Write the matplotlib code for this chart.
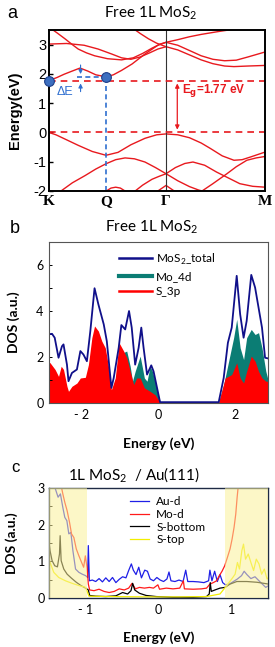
import numpy as np
import matplotlib.pyplot as plt

plt.rcParams['font.family'] = ['Lato', 'DejaVu Sans']
plt.rcParams['mathtext.fontset'] = 'custom'
plt.rcParams['mathtext.rm'] = 'Lato'

# ---------------- panel a : band structure ----------------
k_ticks = [0, 0.487, 1.0, 1.846]
k_labels = ['K', 'Q', 'Γ', 'M']

k_cb1 = [0, 0.07, 0.13, 0.2, 0.265, 0.33, 0.4, 0.487, 0.55, 0.62, 0.71, 0.82, 0.93, 1.0, 1.1, 1.2, 1.3, 1.4, 1.5, 1.6, 1.7, 1.846]
E_cb1 = [1.77, 1.88, 1.99, 2.1, 2.2, 2.1, 1.97, 1.9, 1.97, 2.12, 2.34, 2.68, 2.98, 3.08, 2.98, 2.8, 2.62, 2.5, 2.45, 2.47, 2.58, 2.75]
k_cb2 = [0, 0.15, 0.3, 0.42, 0.536, 0.62, 0.7, 0.78, 0.86, 0.93, 1.0, 1.1, 1.2, 1.3, 1.4, 1.5, 1.58, 1.7, 1.846]
E_cb2 = [3.02, 3.04, 2.98, 2.85, 2.68, 2.55, 2.5, 2.58, 2.72, 2.85, 2.93, 2.82, 2.65, 2.48, 2.35, 2.27, 2.25, 2.27, 2.29]
k_cb3 = [0, 0.07, 0.137, 0.2, 0.25, 0.32, 0.39, 0.5, 0.62, 0.72, 0.8, 0.88, 0.95, 1.0, 1.1, 1.2, 1.3, 1.45, 1.62, 1.7]
E_cb3 = [3.6, 3.4, 3.2, 3.0, 2.85, 2.72, 2.62, 2.52, 2.48, 2.55, 2.7, 2.88, 3.02, 3.08, 3.17, 3.27, 3.35, 3.45, 3.55, 3.6]
k_cb4 = [0.72, 0.78, 0.85, 0.92, 1.0]
E_cb4 = [3.55, 3.38, 3.2, 3.05, 2.93]

k_vb1 = [0, 0.06, 0.15, 0.25, 0.37, 0.487, 0.59, 0.7, 0.82, 0.92, 1.0, 1.1, 1.2, 1.3, 1.38, 1.48, 1.58, 1.65, 1.72, 1.846]
E_vb1 = [0, -0.08, -0.25, -0.44, -0.65, -0.78, -0.68, -0.42, -0.2, -0.08, -0.05, -0.08, -0.18, -0.36, -0.55, -0.8, -0.95, -0.93, -0.84, -0.67]
k_vb2 = [0.11, 0.2, 0.31, 0.4, 0.487, 0.57, 0.65, 0.73, 0.82, 0.91, 1.0, 1.1, 1.2, 1.28, 1.33]
E_vb2 = [-1.98, -1.72, -1.47, -1.25, -1.07, -0.93, -0.87, -0.9, -1.01, -1.2, -1.41, -1.65, -1.85, -1.97, -2.02]
k_vb3 = [0.73, 0.8, 0.88, 0.94, 1.0, 1.08, 1.16, 1.23, 1.33, 1.43, 1.53, 1.63, 1.74, 1.846]
E_vb3 = [-2.02, -1.8, -1.6, -1.5, -1.41, -1.2, -1.06, -1.01, -1.12, -1.35, -1.55, -1.75, -1.84, -1.87]
k_vb4 = [1.3, 1.4, 1.52, 1.6, 1.69, 1.77, 1.846]
E_vb4 = [-2.02, -1.75, -1.41, -1.17, -0.95, -0.87, -0.82]
k_vb5 = [0.49, 0.53, 0.57, 0.61, 0.65]
E_vb5 = [-2.0, -1.9, -1.87, -1.9, -2.0]
k_vb6 = [0.93, 1.0, 1.07]
E_vb6 = [-2.0, -1.81, -2.0]

Eg = 1.77
E_Q = 1.9

# ---------------- panel b : DOS free MoS2 ----------------
E_tot = [-2.91, -2.78, -2.71, -2.61, -2.52, -2.48, -2.39, -2.35, -2.26, -2.13, -2.04, -1.96, -1.87, -1.78, -1.67, -1.57,
         -1.43, -1.35, -1.23, -1.17, -1.04, -0.97, -0.87, -0.77, -0.70, -0.61, -0.52, -0.45, -0.39, -0.30, -0.19, -0.13,
         0.04, 1.57, 1.70, 1.81, 1.91, 2.04, 2.13, 2.22, 2.30, 2.42, 2.52, 2.61, 2.70, 2.78, 2.86]
D_tot = [2.98, 3.01, 2.84, 1.97, 2.47, 2.55, 1.67, 0.95, 1.31, 1.46, 2.26, 2.11, 1.82, 3.13, 4.99, 4.29,
         3.42, 2.69, 0.66, 1.09, 2.40, 3.39, 3.20, 4.00, 3.28, 1.67, 2.40, 3.28, 2.40, 1.24, 1.64, 1.38,
         0.04, 0.04, 1.09, 2.62, 3.28, 5.53, 3.86, 2.84, 3.57, 5.57, 5.02, 4.15, 3.28, 1.97, 1.94]
E_s3p = [-2.91, -2.83, -2.70, -2.61, -2.54, -2.48, -2.39, -2.35, -2.26, -2.13, -2.04, -1.91, -1.83, -1.74, -1.67, -1.57,
         -1.48, -1.39, -1.30, -1.23, -1.13, -1.03, -0.91, -0.83, -0.74, -0.65, -0.57, -0.48, -0.37, -0.22, -0.09, 0.04,
         1.57, 1.74, 1.91, 2.04, 2.13, 2.22, 2.30, 2.42, 2.52, 2.61, 2.70, 2.80, 2.86]
D_s3p = [1.82, 1.75, 1.46, 1.16, 1.60, 1.46, 0.73, 0.51, 0.73, 0.87, 1.09, 1.12, 1.67, 2.84, 3.35, 3.13,
         2.69, 2.40, 1.53, 0.58, 1.09, 2.62, 2.26, 1.97, 1.38, 0.80, 1.09, 1.09, 0.66, 0.51, 0.36, 0.03,
         0.03, 1.09, 1.24, 1.75, 1.09, 0.87, 1.38, 2.04, 1.82, 1.38, 1.09, 0.95, 0.95]
E_mo4d = [-2.91, -2.6, -2.3, -2.0, -1.75, -1.5, -1.25, -1.1, -0.91, -0.83, -0.74, -0.68, -0.61, -0.48, -0.42, -0.37,
          -0.30, -0.22, -0.16, -0.09, 0.04, 1.57, 1.70, 1.83, 1.96, 2.04, 2.13, 2.22, 2.30, 2.42, 2.52, 2.61, 2.70, 2.80, 2.86]
D_mo4d = [0.9, 0.6, 0.4, 0.7, 1.6, 1.5, 0.4, 0.8, 2.2, 2.26, 1.60, 0.95, 1.38, 2.04, 1.53, 1.09,
          0.95, 1.60, 1.38, 0.95, 0.03, 0.03, 0.80, 1.82, 2.84, 3.64, 2.40, 1.89, 2.84, 3.20, 2.98, 3.06, 2.40, 1.38, 1.0]

# ---------------- panel c : DOS MoS2 / Au(111) ----------------
E_au = [-1.411, -1.375, -1.343, -1.31, -1.283, -1.255, -1.228, -1.2, -1.172, -1.136, -1.09, -1.044, -0.998, -0.97, -0.961,
        -0.947, -0.906, -0.86, -0.814, -0.768, -0.722, -0.676, -0.63, -0.584, -0.538, -0.492, -0.446, -0.409, -0.372,
        -0.345, -0.308, -0.271, -0.234, -0.189, -0.152, -0.115, -0.069, -0.023, 0.023, 0.069, 0.115, 0.143, 0.17, 0.225,
        0.28, 0.336, 0.372, 0.4, 0.474, 0.547, 0.621, 0.685, 0.703, 0.731, 0.768, 0.805, 0.841, 0.878, 0.915, 0.97,
        1.025, 1.08, 1.136, 1.172, 1.209, 1.264, 1.32, 1.375, 1.421, 1.467, 1.508]
D_au = [2.97, 2.75, 2.84, 2.47, 2.2, 2.11, 1.75, 1.79, 1.29, 0.79, 0.7, 0.65, 0.61, 0.56, 1.43,
        0.47, 0.49, 0.45, 0.53, 0.44, 0.55, 0.45, 0.56, 0.42, 0.51, 0.58, 0.55, 0.75, 0.93,
        0.76, 0.64, 0.84, 0.55, 0.76, 0.73, 0.52, 0.47, 0.56, 0.49, 0.45, 0.52, 0.71, 0.47, 0.45,
        0.49, 0.45, 0.76, 0.45, 0.45, 0.44, 0.42, 0.47, 0.76, 0.47, 0.73, 0.45, 0.64, 0.42, 0.36, 0.38,
        0.45, 0.52, 0.61, 0.73, 0.64, 0.53, 0.58, 0.47, 0.38, 0.29, 0.34]
E_mod = [-1.338, -1.31, -1.283, -1.251, -1.218, -1.191, -1.159, -1.126, -1.09, -1.053, -1.025, -1.002, -0.979, -0.961,
         -0.943, -0.883, -0.814, -0.745, -0.676, -0.607, -0.538, -0.469, -0.409, -0.363, -0.317, -0.262, -0.193, -0.124,
         -0.069, -0.009, 0.014, 0.106, 0.198, 0.29, 0.34, 0.354, 0.474, 0.589, 0.657, 0.703, 0.749, 0.795, 0.832, 0.869,
         0.906, 0.943, 0.979, 1.007, 1.034, 1.057, 1.076, 1.094]
D_mod = [3.11, 2.84, 2.61, 2.38, 2.06, 1.75, 1.65, 1.34, 1.15, 0.97, 0.84, 1.15, 0.84, 0.38,
         0.22, 0.2, 0.24, 0.18, 0.15, 0.18, 0.25, 0.22, 0.27, 0.4, 0.25, 0.29, 0.27, 0.29,
         0.27, 0.36, 0.24, 0.27, 0.25, 0.27, 0.47, 0.25, 0.24, 0.25, 0.27, 0.38, 0.42, 0.47, 0.61, 0.73,
         0.88, 1.11, 1.34, 1.61, 1.93, 2.29, 2.75, 3.11]
E_sbot = [-1.536, -1.513, -1.485, -1.457, -1.421, -1.384, -1.356, -1.347, -1.333, -1.297, -1.251, -1.191, -1.126, -1.062,
          -0.998, -0.961, -0.943, -0.86, -0.722, -0.584, -0.492, -0.423, -0.377, -0.354, -0.326, -0.262, -0.17, -0.032,
          0.198, 0.474, 0.657, 0.694, 0.708, 0.722, 0.772, 0.841, 0.91, 0.979, 1.071, 1.209, 1.347, 1.508]
D_sbot = [2.2, 1.75, 1.29, 1.02, 0.88, 0.85, 1.2, 1.7, 1.02, 0.79, 0.65, 0.54, 0.43, 0.34,
          0.27, 0.22, 0.07, 0.05, 0.04, 0.06, 0.15, 0.11, 0.2, 0.4, 0.22, 0.13, 0.07, 0.04,
          0.02, 0.02, 0.04, 0.11, 0.42, 0.18, 0.22, 0.27, 0.29, 0.38, 0.45, 0.45, 0.43, 0.38]
E_stop = [-1.527, -1.494, -1.434, -1.366, -1.274, -1.182, -1.09, -0.998, -0.952, -0.63, -0.17, 0.29, 0.657, 0.841,
          0.933, 1.002, 1.048, 1.08, 1.108, 1.14, 1.163, 1.191, 1.228, 1.264, 1.301, 1.338, 1.375, 1.411, 1.448, 1.485, 1.508]
D_stop = [1.47, 1.02, 0.7, 0.56, 0.47, 0.4, 0.34, 0.29, 0.05, 0.04, 0.03, 0.03, 0.04, 0.11,
          0.34, 0.52, 0.65, 0.97, 0.79, 1.29, 1.47, 1.06, 1.2, 0.97, 0.75, 1.06, 0.93, 0.65, 0.79, 0.52, 0.56]
shade_left = (-1.5, -0.98)
shade_right = (0.905, 1.5)

red = '#e8191e'
blue = '#2f6fd0'

fig = plt.figure(figsize=(2.75, 6.47), dpi=100)

# ===== a =====
ax = fig.add_axes([0.178, 0.7048, 0.786, 0.2488])
for kk, ee in [(k_cb1, E_cb1), (k_cb2, E_cb2), (k_cb3, E_cb3), (k_cb4, E_cb4),
               (k_vb1, E_vb1), (k_vb2, E_vb2), (k_vb3, E_vb3), (k_vb4, E_vb4), (k_vb5, E_vb5), (k_vb6, E_vb6)]:
    ax.plot(kk, ee, color=red, lw=1.0)
ax.axvline(1.0, color='#333333', lw=0.8)
ax.axhline(Eg, color=red, lw=1.2, ls=(0, (4, 3)))
ax.axhline(0, color=red, lw=1.2, ls=(0, (4, 3)))
ax.plot([k_ticks[1], k_ticks[1]], [-2, E_Q], color=blue, lw=1.2, ls=(0, (3, 2)))
ax.plot([0.24, k_ticks[1]], [E_Q, E_Q], color=blue, lw=1.2, ls=(0, (3, 2)))
ax.plot([0, k_ticks[1]], [Eg, E_Q], 'o', ms=7, mfc='#3d6fc0', mec='#1d3f8a', mew=0.8, clip_on=False, zorder=5)
ax.annotate('', xy=(0.27, E_Q), xytext=(0.27, 2.4),
            arrowprops=dict(arrowstyle='-|>', color=blue, lw=0.8, mutation_scale=6))
ax.annotate('', xy=(0.27, Eg), xytext=(0.27, 1.3),
            arrowprops=dict(arrowstyle='-|>', color=blue, lw=0.8, mutation_scale=6))
ax.text(0.14, 1.38, 'ΔE', color=blue, fontsize=9, ha='center', va='center', family='Liberation Sans')
ax.annotate('', xy=(1.096, 0), xytext=(1.096, Eg),
            arrowprops=dict(arrowstyle='<|-|>', color=red, lw=0.9, mutation_scale=6))
ax.text(1.14, 1.43, r'E$_\mathbf{g}$=1.77 eV', color=red, fontsize=8.5, fontweight='bold', va='center',
        family='Liberation Sans')
ax.set_xlim(0, k_ticks[-1])
ax.set_ylim(-2, 3.5)
ax.set_xticks(k_ticks)
ax.set_xticklabels(k_labels, family='Liberation Serif', fontsize=11, fontweight='bold')
ax.tick_params(axis='x', length=0, pad=3)
ax.set_yticks([-2, -1, 0, 1, 2, 3])
ax.set_yticklabels(['-2', '-1', '0', '1', '2', '3'], family='Liberation Sans', fontsize=10.5)
ax.tick_params(axis='y', direction='in', length=3, width=1, pad=2)
for s in ax.spines.values():
    s.set_linewidth(1.4)
ax.set_ylabel('Energy(eV)', family='Liberation Sans', fontweight='bold', fontsize=10.5)
ax.yaxis.set_label_coords(-0.125, 0.5)

# ===== b =====
bx = fig.add_axes([0.178, 0.377, 0.797, 0.249])
bx.fill_between(E_mo4d, D_mo4d, color='#0b7d74', lw=0, label='Mo_4d')
bx.fill_between(E_s3p, D_s3p, color='#ff0000', lw=0, label='S_3p')
bx.plot(E_tot, D_tot, color='#10108a', lw=1.3, label='MoS$_2$_total')
bx.set_xlim(-2.86, 2.86)
bx.set_ylim(0, 7)
bx.set_xticks([-2, 0, 2])
bx.set_xticklabels(['- 2', '0', '2'], fontsize=9)
bx.set_yticks([0, 1, 2, 3, 4, 5, 6])
bx.set_yticklabels(['0', '', '2', '', '4', '', '6'], fontsize=9)
bx.tick_params(axis='x', length=0, pad=4)
bx.tick_params(axis='y', direction='in', length=2, width=0.7, pad=4)
for s in bx.spines.values():
    s.set_linewidth(0.8)
    s.set_color('#555555')
bx.set_ylabel('DOS (a.u.)', fontweight='bold', fontsize=10)
bx.yaxis.set_label_coords(-0.132, 0.5)
bx.set_xlabel('Energy (eV)', fontweight='bold', fontsize=10)
bx.xaxis.set_label_coords(0.5, -0.215)
h, l = bx.get_legend_handles_labels()
from matplotlib.lines import Line2D
hb = [Line2D([], [], color='#10108a', lw=1.8), Line2D([], [], color='#0b7d74', lw=3), Line2D([], [], color='#ff0000', lw=1.8)]
bx.legend(hb, ['MoS$_2$_total', 'Mo_4d', 'S_3p'], loc='upper left', bbox_to_anchor=(0.3, 0.97), frameon=False,
          fontsize=8.5, handlelength=2.8, handletextpad=0.3, labelspacing=0.35, borderaxespad=0)

# ===== c =====
cx = fig.add_axes([0.178, 0.0757, 0.797, 0.17])
cx.plot(E_au, D_au, color='#1f1fe6', lw=0.9, label='Au-d')
cx.plot(E_mod, D_mod, color='#ff1a1a', lw=0.9, label='Mo-d')
cx.plot(E_sbot, D_sbot, color='black', lw=0.9, label='S-bottom')
cx.plot(E_stop, D_stop, color='#f2ee00', lw=0.9, label='S-top')
cx.axvspan(*shade_left, color='#fbf19a', alpha=0.55, lw=0, zorder=3)
cx.axvspan(*shade_right, color='#fbf19a', alpha=0.55, lw=0, zorder=3)
cx.set_xlim(-1.5, 1.5)
cx.set_ylim(0, 3)
cx.set_xticks([-1, 0, 1])
cx.set_xticklabels(['- 1', '0', '1'], fontsize=9)
cx.set_yticks([0, 0.5, 1, 1.5, 2, 2.5, 3])
cx.set_yticklabels(['0', '', '1', '', '2', '', '3'], fontsize=9)
cx.tick_params(axis='x', length=0, pad=4)
cx.tick_params(axis='y', direction='in', length=2, width=0.7, pad=3)
for s in cx.spines.values():
    s.set_linewidth(1.0)
    s.set_color('#1e2a44')
cx.set_ylabel('DOS (a.u.)', fontweight='bold', fontsize=10)
cx.yaxis.set_label_coords(-0.14, 0.5)
cx.set_xlabel('Energy (eV)', fontweight='bold', fontsize=10)
cx.xaxis.set_label_coords(0.5, -0.3)
cx.legend(loc='upper left', bbox_to_anchor=(0.35, 0.97), frameon=False, fontsize=8.5, handlelength=1.6,
          handletextpad=0.6, labelspacing=0.15, borderaxespad=0)

# titles and panel letters
fig.text(151 / 275, 1 - 13 / 647, 'Free 1L MoS$_2$', ha='center', va='center', fontsize=11)
fig.text(152 / 275, 1 - 227 / 647, 'Free 1L MoS$_2$', ha='center', va='center', fontsize=11)
fig.text(134 / 275, 1 - 475 / 647, '1L MoS$_2$  / Au(111)', ha='center', va='center', fontsize=11)
fig.text(12 / 275, 1 - 13 / 647, 'a', ha='center', va='center', fontsize=13, family='Liberation Sans')
fig.text(15 / 275, 1 - 229 / 647, 'b', ha='center', va='center', fontsize=13, family='Liberation Sans')
fig.text(15 / 275, 1 - 468 / 647, 'c', ha='center', va='center', fontsize=12, family='Liberation Sans')

fig.savefig('out.png', dpi=100)
